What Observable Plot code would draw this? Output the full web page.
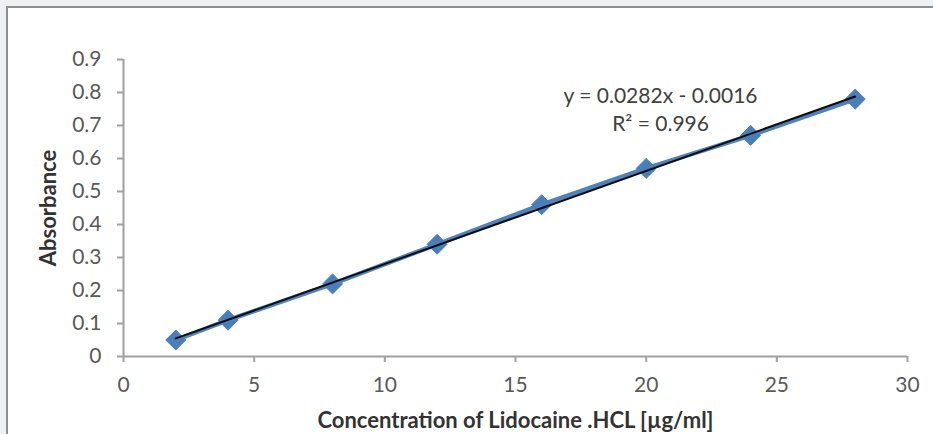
<!DOCTYPE html>
<html>
<head>
<meta charset="utf-8">
<script src="https://cdn.jsdelivr.net/npm/d3@7"></script>
<script src="https://cdn.jsdelivr.net/npm/@observablehq/plot@0.6"></script>
<style>
  html, body { margin: 0; padding: 0; background: #eff0f2; overflow: hidden; }
  #wrap { position: relative; width: 933px; height: 434px; }
  #frame { position: absolute; left: 6px; top: 6px; width: 940px; height: 440px;
           border: 2px solid #8e8e8e; background: #ffffff; box-sizing: border-box; }
  #chart { position: absolute; left: 0; top: 0; }
  #chart svg { background: transparent; }
</style>
</head>
<body>
<div id="wrap"><div id="frame"></div><div id="chart"></div></div>
<script>
const concentration = [2, 4, 8, 12, 16, 20, 24, 28];
const absorbance = [0.05, 0.11, 0.22, 0.34, 0.46, 0.57, 0.67, 0.78];
const xTicks = [0, 5, 10, 15, 20, 25, 30];
const yTicks = [0, 0.1, 0.2, 0.3, 0.4, 0.5, 0.6, 0.7, 0.8, 0.9];
const slope = 0.0282;
const intercept = -0.0016;
const equationLabel = "y = 0.0282x - 0.0016";
const r2Label = "R² = 0.996";
const xLabel = "Concentration of Lidocaine .HCL [µg/ml]";
const yLabel = "Absorbance";

const points = concentration.map((c, i) => ({x: c, y: absorbance[i]}));
const xEnds = [d3.min(concentration), d3.max(concentration)];
const trend = xEnds.map(x => ({x, y: slope * x + intercept}));

const font = "Lato, 'Open Sans', sans-serif";
const axisGray = "#a0a0a0";

const chart = Plot.plot({
  width: 933,
  height: 434,
  marginLeft: 123,
  marginRight: 26,
  marginTop: 59,
  marginBottom: 78,
  style: {fontFamily: font, fontSize: "21px", color: "#595959", background: "transparent"},
  x: {domain: [0, 30]},
  y: {domain: [0, 0.9]},
  marks: [
    Plot.ruleX([0], {stroke: axisGray, strokeWidth: 2}),
    Plot.ruleY([0], {stroke: axisGray, strokeWidth: 2}),
    Plot.axisX({ticks: xTicks, tickSize: 6, tickPadding: 15, stroke: axisGray, strokeWidth: 2,
      fill: "#595959", fontSize: 21, label: null}),
    Plot.axisY({ticks: yTicks, tickSize: 6, tickPadding: 16, stroke: axisGray, strokeWidth: 2,
      fill: "#595959", fontSize: 21, label: null, tickFormat: d => d === 0 ? "0" : d3.format(".1f")(d)}),
    Plot.line(points, {x: "x", y: "y", stroke: "#4f81bd", strokeWidth: 4.5}),
    Plot.dot(points, {x: "x", y: "y", symbol: "diamond2", r: 9, fill: "#4a7ebb", stroke: "#4a7ebb", strokeWidth: 1}),
    Plot.line(trend, {x: "x", y: "y", stroke: "#0d0d0d", strokeWidth: 2}),
    Plot.text([equationLabel], {x: 20.55, y: 0.788, text: d => d, fill: "#404040", fontSize: 21, textAnchor: "middle"}),
    Plot.text([r2Label], {x: 20.55, y: 0.703, text: d => d, fill: "#404040", fontSize: 21, textAnchor: "middle"}),
    Plot.text([xLabel], {frameAnchor: "bottom", dy: 64, lineAnchor: "middle", textAnchor: "middle", text: d => d, fill: "#333333", fontSize: 22, fontWeight: "bold"}),
    Plot.text([yLabel], {frameAnchor: "left", dx: -75, rotate: -90, textAnchor: "middle", lineAnchor: "middle", text: d => d, fill: "#333333", fontSize: 22, fontWeight: "bold"})
  ]
});
document.getElementById("chart").appendChild(chart);
</script>
</body>
</html>
